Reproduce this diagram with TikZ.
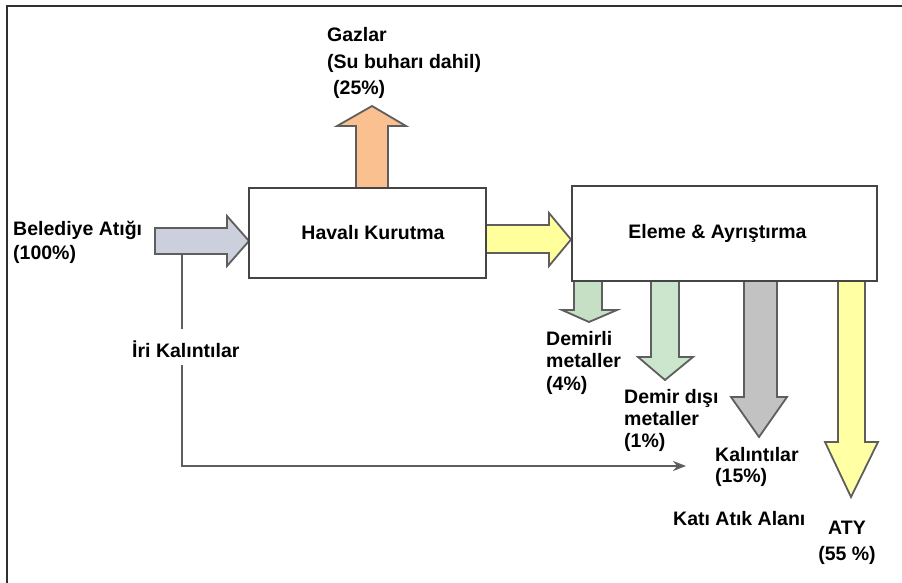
\documentclass[tikz,border=0pt]{standalone}
\usepackage{fontspec}
\setmainfont{Liberation Sans}
\usetikzlibrary{arrows.meta}
\definecolor{framec}{HTML}{303030}
\definecolor{boxline}{HTML}{454545}
\definecolor{arrline}{HTML}{5E5E5E}
\definecolor{cin}{HTML}{CCCFDC}
\definecolor{corange}{HTML}{FAC08F}
\definecolor{cyellow}{HTML}{FFFF9C}
\definecolor{cgreenA}{HTML}{C6E0C6}
\definecolor{cgreenB}{HTML}{CBE6CD}
\definecolor{cgray}{HTML}{C2C2C2}
\definecolor{caty}{HTML}{FFFFA3}
\begin{document}
\begin{tikzpicture}[x=1pt,y=-1pt,
  box/.style={draw=boxline, line width=2.2pt, fill=white, inner sep=0pt,
    font=\fontsize{19.5}{23.5}\selectfont\bfseries},
  lbl/.style={inner sep=0pt, align=left, anchor=base west},
  lfont/.style={font=\fontsize{19.5}{#1}\selectfont\bfseries},
  blk/.style={draw=arrline, line width=1.8pt, line join=miter},
  conn/.style={draw=arrline, line width=2.2pt},
]
\useasboundingbox (0,0) rectangle (902,583);
\fill[white] (0,0) rectangle (902,583);
\draw[line width=2.5pt, framec] (7,583) -- (7,6) -- (902,6);

% block arrows
\draw[blk, fill=cin] (155,228) -- (227,228) -- (227,216) -- (249,241) -- (227,266) -- (227,254) -- (155,254) -- cycle;
\draw[blk, fill=corange] (356,188) -- (356,126) -- (337,126) -- (372,106) -- (406,126) -- (388,126) -- (388,188) -- cycle;
\draw[blk, fill=cyellow] (486,225) -- (549,225) -- (549,213) -- (571,239.5) -- (549,266) -- (549,253) -- (486,253) -- cycle;
\draw[blk, fill=cgreenA] (574,281) -- (574,310) -- (562,310) -- (589,322) -- (617,310) -- (602,310) -- (602,281) -- cycle;
\draw[blk, fill=cgreenB] (651,281) -- (651,357) -- (638,357) -- (665,380) -- (693,357) -- (679,357) -- (679,281) -- cycle;
\draw[blk, fill=cgray] (744,281) -- (744,397) -- (731,397) -- (759,437) -- (787,397) -- (777,397) -- (777,281) -- cycle;
\draw[blk, fill=caty] (838,281) -- (838,442) -- (825,442) -- (851,497) -- (878,442) -- (865,442) -- (865,281) -- cycle;

% boxes
\node[box, minimum width=237pt, minimum height=90pt] (hk) at (367.5,233) {\hspace*{11pt}Havalı Kurutma};
\node[box, minimum width=305pt, minimum height=95pt] (ea) at (724.5,233.5) {\hspace*{-14pt}Eleme \& Ayrıştırma};

% labels (anchored at the baseline of the last line)
\node[lbl, lfont=24pt] (bel) at (13,259) {Belediye Atığı\\(100\%)};
\node[lbl, lfont=26.5pt] (gaz) at (327,95) {Gazlar\\(Su buharı dahil)\\\hspace*{6pt}(25\%)};
\node[lbl, lfont=22.5pt] (dem) at (546,390) {Demirli\\metaller\\(4\%)};
\node[lbl, lfont=22pt] (dd) at (624,447) {Demir dışı\\metaller\\(1\%)};
\node[lbl, lfont=21.5pt] (kal) at (715,482.5) {Kalıntılar\\(15\%)};
\node[lbl, lfont=24pt] (kaa) at (673,525) {Katı Atık Alanı};
\node[lbl, lfont=26pt, align=center, anchor=base] (aty) at (847,560) {ATY\\(55 \%)};
\node[lbl, lfont=24pt] (iri) at (132,357) {İri Kalıntılar};

% connector
\coordinate (src) at (182,254);
\coordinate (gapA) at (182,329);
\coordinate (gapB) at (182,365);
\coordinate (dst) at (686,466);
\draw[conn] (src) -- (gapA);
\draw[conn, -{Stealth[length=13pt,width=10pt]}] (gapB) |- (dst);
\end{tikzpicture}
\end{document}
